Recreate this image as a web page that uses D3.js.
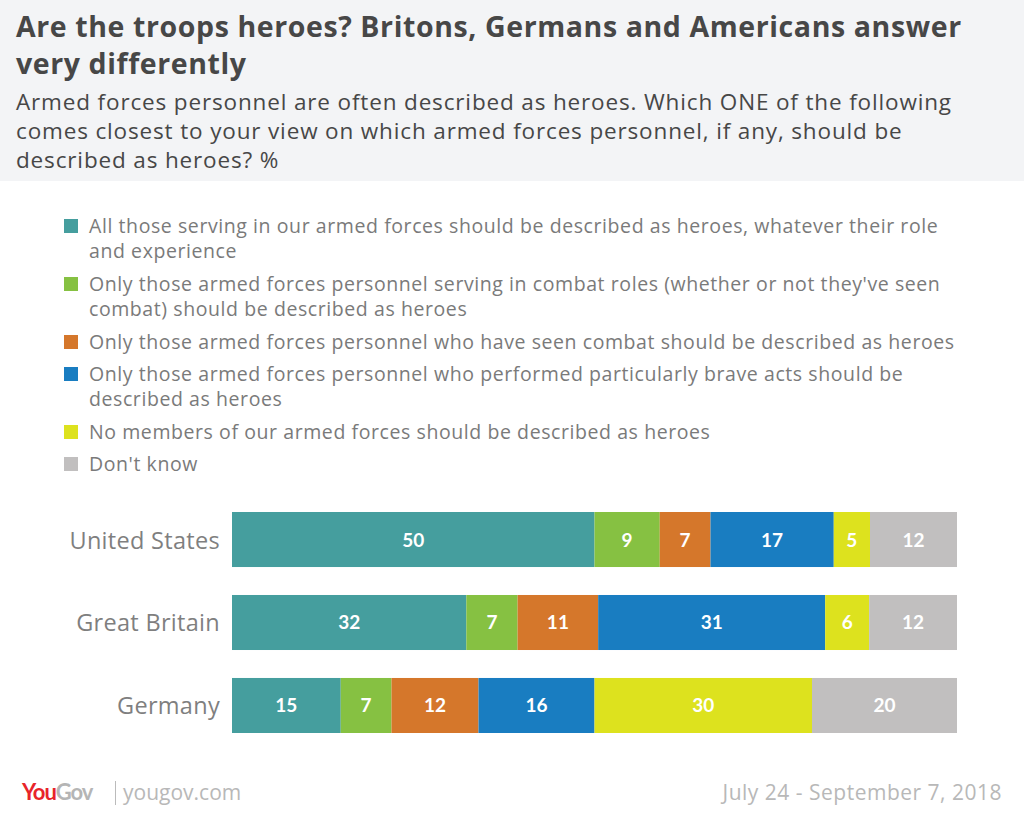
<!DOCTYPE html>
<html>
<head>
<meta charset="utf-8">
<script src="https://cdn.jsdelivr.net/npm/d3@7"></script>
<style>
  body { margin: 0; background: #fff; }
  svg { display: block; }
</style>
</head>
<body>
<svg id="chart" width="1024" height="817"></svg>
<script>
var countries = ["United States", "Great Britain", "Germany"];

var answers = [
  "All those serving in our armed forces should be described as heroes, whatever their role\nand experience",
  "Only those armed forces personnel serving in combat roles (whether or not they've seen\ncombat) should be described as heroes",
  "Only those armed forces personnel who have seen combat should be described as heroes",
  "Only those armed forces personnel who performed particularly brave acts should be\ndescribed as heroes",
  "No members of our armed forces should be described as heroes",
  "Don't know"
];

var allHeroes    = [50, 32, 15];
var combatRoles  = [ 9,  7,  7];
var seenCombat   = [ 7, 11, 12];
var braveActs    = [17, 31, 16];
var noneHeroes   = [ 5,  6, 30];
var dontKnow     = [12, 12, 20];

var colours = ["#459e9e", "#86c142", "#d5772b", "#197dc1", "#dde21e", "#c1bfbf"];

var svg = d3.select("#chart");
var font = "'Open Sans', Lato, sans-serif";
var numFont = "Lato, 'Open Sans', sans-serif";

// header
svg.append("rect").attr("x", 0).attr("y", 0).attr("width", 1024).attr("height", 181).attr("fill", "#f3f4f6");

var titleLines = ["Are the troops heroes? Britons, Germans and Americans answer", "very differently"];
var subLines = ["Armed forces personnel are often described as heroes. Which ONE of the following",
                "comes closest to your view on which armed forces personnel, if any, should be",
                "described as heroes? %"];

svg.selectAll(".title").data(titleLines).enter().append("text")
  .attr("x", 16).attr("y", function(d, i) { return 37 + i * 37; })
  .attr("font-family", font).attr("font-weight", "bold").attr("font-size", 28.5)
  .attr("letter-spacing", 0.6)
  .attr("fill", "#474747").text(function(d) { return d; });

svg.selectAll(".sub").data(subLines).enter().append("text")
  .attr("x", 16).attr("y", function(d, i) { return 110 + i * 29; })
  .attr("font-family", font).attr("font-size", 22.5).attr("letter-spacing", 0.85)
  .attr("fill", "#474747").text(function(d) { return d; });

// legend
var legendY = [233, 291, 349, 381, 439, 471];
var legend = svg.selectAll(".leg").data(answers).enter().append("g");

legend.append("rect")
  .attr("x", 64).attr("y", function(d, i) { return legendY[i] - 14; })
  .attr("width", 14).attr("height", 14)
  .attr("fill", function(d, i) { return colours[i]; });

legend.append("text")
  .attr("x", 89).attr("y", function(d, i) { return legendY[i]; })
  .attr("font-family", font).attr("font-size", 19.5).attr("letter-spacing", 0.58)
  .attr("fill", "#7a7a7a")
  .each(function(d) {
    var t = d3.select(this);
    d.split("\n").forEach(function(line, j) {
      t.append("tspan").attr("x", 89).attr("dy", j == 0 ? 0 : 25).text(line);
    });
  });

// bars
var series = [allHeroes, combatRoles, seenCombat, braveActs, noneHeroes, dontKnow];

var rows = countries.map(function(c, r) {
  var total = d3.sum(series, function(s) { return s[r]; });
  var acc = 0;
  var segs = series.map(function(s, k) {
    var seg = { k: k, value: s[r], x0: acc / total, x1: (acc + s[r]) / total };
    acc += s[r];
    return seg;
  });
  return { country: c, segs: segs };
});

var x = d3.scaleLinear().domain([0, 1]).range([232, 957]);
var y = d3.scaleBand().domain(countries).range([512, 733]).paddingInner(0.337).paddingOuter(0);

var rowG = svg.selectAll(".row").data(rows).enter().append("g")
  .attr("transform", function(d) { return "translate(0," + y(d.country) + ")"; });

rowG.selectAll("rect").data(function(d) { return d.segs; }).enter().append("rect")
  .attr("x", function(d) { return x(d.x0); })
  .attr("width", function(d) { return x(d.x1) - x(d.x0); })
  .attr("y", 0).attr("height", y.bandwidth())
  .attr("fill", function(d) { return colours[d.k]; });

rowG.selectAll(".val").data(function(d) { return d.segs; }).enter().append("text")
  .attr("x", function(d) { return (x(d.x0) + x(d.x1)) / 2; })
  .attr("y", y.bandwidth() / 2 + 7)
  .attr("text-anchor", "middle")
  .attr("font-family", numFont).attr("font-weight", "bold").attr("font-size", 19)
  .attr("fill", "#fff").text(function(d) { return d.value; });

rowG.append("text")
  .attr("x", 220).attr("y", y.bandwidth() / 2 + 9)
  .attr("text-anchor", "end")
  .attr("font-family", font).attr("font-size", 23.5).attr("letter-spacing", 0.3)
  .attr("fill", "#7f7f7f")
  .text(function(d) { return d.country; });

// footer
var logo = svg.append("text").attr("x", 22).attr("y", 800)
  .attr("font-family", numFont).attr("font-weight", "bold").attr("font-size", 22)
  .attr("letter-spacing", -1);
logo.append("tspan").attr("fill", "#e8242a").text("You");
logo.append("tspan").attr("fill", "#b5b5b5").text("Gov");

svg.append("line").attr("x1", 115.5).attr("x2", 115.5).attr("y1", 781).attr("y2", 805)
  .attr("stroke", "#bbb").attr("stroke-width", 1);

svg.append("text").attr("x", 123).attr("y", 800)
  .attr("font-family", font).attr("font-size", 21).attr("fill", "#b8b8b8")
  .text("yougov.com");

svg.append("text").attr("x", 1002).attr("y", 800).attr("text-anchor", "end")
  .attr("font-family", font).attr("font-size", 21).attr("letter-spacing", 0.5)
  .attr("fill", "#b8b8b8")
  .text("July 24 - September 7, 2018");
</script>
</body>
</html>
